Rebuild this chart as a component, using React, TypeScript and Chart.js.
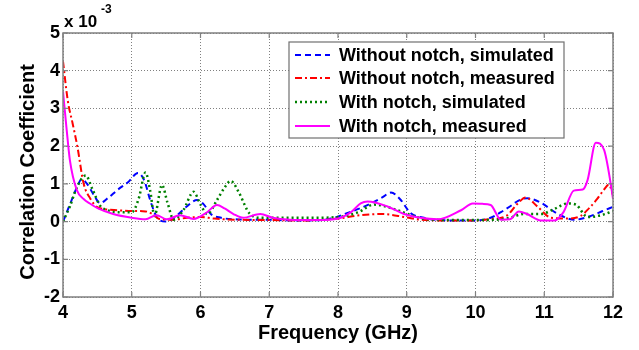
import React, { useEffect, useRef } from "react";
import { Chart, registerables } from "chart.js";

Chart.register(...registerables);

// Without notch, simulated (blue dashed)
const blueFreq = [4.0, 4.1, 4.2, 4.27, 4.35, 4.45, 4.54, 4.65, 4.8, 4.95, 5.09, 5.18, 5.28, 5.37, 5.5, 5.65, 5.8, 5.95, 6.05, 6.15, 6.3, 6.5, 6.8, 7.0, 7.3, 7.6, 7.9, 8.1, 8.33, 8.5, 8.65, 8.77, 8.9, 9.06, 9.25, 9.4, 9.7, 10.0, 10.22, 10.37, 10.5, 10.62, 10.75, 10.95, 11.2, 11.44, 11.68, 11.85, 12.0];
const blueVal = [0.0, 0.45, 0.9, 1.12, 1.0, 0.7, 0.49, 0.62, 0.85, 1.05, 1.29, 1.1, 0.5, 0.1, 0.0, 0.15, 0.4, 0.57, 0.45, 0.2, 0.1, 0.06, 0.05, 0.05, 0.03, 0.03, 0.08, 0.2, 0.36, 0.5, 0.65, 0.77, 0.6, 0.22, 0.1, 0.05, 0.03, 0.03, 0.1, 0.25, 0.4, 0.55, 0.62, 0.5, 0.2, 0.05, 0.15, 0.28, 0.39];

// Without notch, measured (red dash-dot)
const redFreq = [4.0, 4.07, 4.14, 4.21, 4.3, 4.4, 4.49, 4.6, 4.8, 5.0, 5.2, 5.3, 5.4, 5.6, 5.8, 6.0, 6.2, 6.5, 7.0, 7.5, 8.0, 8.33, 8.63, 8.97, 9.2, 9.6, 10.0, 10.2, 10.45, 10.6, 10.73, 10.9, 11.1, 11.34, 11.53, 11.65, 11.77, 11.87, 11.94, 12.0];
const redVal = [4.25, 3.2, 2.6, 1.98, 1.01, 0.6, 0.39, 0.33, 0.3, 0.28, 0.27, 0.2, 0.07, 0.05, 0.1, 0.12, 0.08, 0.05, 0.04, 0.03, 0.08, 0.17, 0.2, 0.12, 0.05, 0.03, 0.03, 0.06, 0.15, 0.45, 0.64, 0.4, 0.1, 0.08, 0.15, 0.35, 0.6, 0.85, 0.98, 0.7];

// With notch, simulated (green dotted)
const greenFreq = [4.0, 4.1, 4.2, 4.33, 4.43, 4.54, 4.65, 4.8, 5.0, 5.1, 5.2, 5.27, 5.33, 5.44, 5.52, 5.61, 5.75, 5.9, 6.0, 6.1, 6.24, 6.35, 6.44, 6.55, 6.72, 6.9, 7.2, 7.6, 8.0, 8.3, 8.52, 8.82, 9.06, 9.3, 9.7, 10.0, 10.3, 10.5, 10.7, 10.95, 11.14, 11.34, 11.46, 11.63, 11.83, 12.0];
const greenVal = [0.0, 0.4, 0.9, 1.22, 0.85, 0.42, 0.3, 0.25, 0.25, 0.6, 1.3, 0.8, 0.15, 0.97, 0.5, 0.05, 0.3, 0.79, 0.45, 0.2, 0.57, 0.9, 1.08, 0.8, 0.2, 0.1, 0.1, 0.1, 0.12, 0.25, 0.45, 0.33, 0.17, 0.06, 0.04, 0.04, 0.05, 0.1, 0.2, 0.2, 0.33, 0.48, 0.45, 0.12, 0.17, 0.28];

// With notch, measured (magenta solid)
const magentaFreq = [4.0, 4.05, 4.1, 4.2, 4.3, 4.39, 4.51, 4.73, 5.0, 5.2, 5.36, 5.51, 5.7, 5.9, 6.09, 6.24, 6.35, 6.48, 6.62, 6.87, 7.05, 7.3, 7.7, 8.0, 8.19, 8.33, 8.43, 8.72, 8.96, 9.2, 9.45, 9.79, 9.96, 10.1, 10.22, 10.37, 10.5, 10.63, 10.75, 10.95, 11.15, 11.28, 11.43, 11.56, 11.63, 11.75, 11.87, 11.97, 12.0];
const magentaVal = [3.45, 2.5, 1.63, 0.84, 0.6, 0.48, 0.35, 0.2, 0.1, 0.06, 0.17, 0.06, 0.17, 0.07, 0.24, 0.44, 0.35, 0.2, 0.1, 0.2, 0.1, 0.05, 0.04, 0.08, 0.25, 0.48, 0.53, 0.4, 0.2, 0.1, 0.06, 0.3, 0.48, 0.47, 0.44, 0.05, 0.06, 0.27, 0.2, 0.03, 0.03, 0.25, 0.82, 0.85, 1.1, 2.09, 1.9, 0.97, 0.6];

const seriesLabels = ["Without notch, simulated", "Without notch, measured", "With notch, simulated", "With notch, measured"];
const xTicks = [4, 5, 6, 7, 8, 9, 10, 11, 12];
const yTicks = [-2, -1, 0, 1, 2, 3, 4, 5];

const FONT = "'Liberation Sans', Arial, sans-serif";

const toPoints = (xs: number[], ys: number[]) => xs.map((x, i) => ({ x, y: ys[i] }));

const styles = [
  { color: "#0000ff", dash: [6, 4], width: 2 },
  { color: "#ff0000", dash: [7, 3, 2, 3], width: 2 },
  { color: "#008000", dash: [2, 3], width: 2.5 },
  { color: "#ff00ff", dash: [] as number[], width: 2 },
];

const decorPlugin = {
  id: "decor",
  afterDraw(chart: any) {
    const { ctx, chartArea } = chart;
    const { left, right, top, bottom } = chartArea;
    const xs = chart.scales.x;
    const ys = chart.scales.y;
    ctx.save();
    // frame
    ctx.strokeStyle = "#808080";
    ctx.lineWidth = 1.5;
    ctx.setLineDash([]);
    ctx.strokeRect(left, top, right - left, bottom - top);
    // inward ticks
    ctx.lineWidth = 1.2;
    xTicks.forEach((t) => {
      const px = xs.getPixelForValue(t);
      ctx.beginPath();
      ctx.moveTo(px, bottom);
      ctx.lineTo(px, bottom - 5);
      ctx.moveTo(px, top);
      ctx.lineTo(px, top + 5);
      ctx.stroke();
    });
    yTicks.forEach((t) => {
      const py = ys.getPixelForValue(t);
      ctx.beginPath();
      ctx.moveTo(left, py);
      ctx.lineTo(left + 5, py);
      ctx.moveTo(right, py);
      ctx.lineTo(right - 5, py);
      ctx.stroke();
    });
    // exponent
    ctx.fillStyle = "#000";
    ctx.textBaseline = "alphabetic";
    ctx.textAlign = "left";
    ctx.font = `bold 17px ${FONT}`;
    ctx.fillText("x 10", 64, 27);
    ctx.font = `bold 12px ${FONT}`;
    ctx.fillText("-3", 101, 13);
    // axis titles
    ctx.font = `bold 20px ${FONT}`;
    ctx.textAlign = "center";
    ctx.fillText("Frequency (GHz)", (left + right) / 2, 339);
    ctx.save();
    ctx.translate(28, 172);
    ctx.rotate(-Math.PI / 2);
    ctx.textBaseline = "middle";
    ctx.font = `bold 20px ${FONT}`;
    ctx.fillText("Correlation Coefficient", 0, 0);
    ctx.restore();
    // legend
    const lx = 289, ly = 42, lw = 275, lh = 96;
    ctx.fillStyle = "#fff";
    ctx.fillRect(lx, ly, lw, lh);
    ctx.strokeStyle = "#707070";
    ctx.lineWidth = 1.2;
    ctx.strokeRect(lx, ly, lw, lh);
    const rows = [55, 78, 102, 126];
    ctx.font = `bold 18px ${FONT}`;
    ctx.textAlign = "left";
    ctx.textBaseline = "middle";
    seriesLabels.forEach((lab, i) => {
      const s = styles[i];
      ctx.strokeStyle = s.color;
      ctx.lineWidth = s.width;
      ctx.setLineDash(s.dash);
      ctx.beginPath();
      ctx.moveTo(295, rows[i]);
      ctx.lineTo(330, rows[i]);
      ctx.stroke();
      ctx.setLineDash([]);
      ctx.fillStyle = "#000";
      ctx.fillText(lab, 339, rows[i] + 1);
    });
    ctx.restore();
  },
};

export default function App() {
  const ref = useRef<HTMLCanvasElement | null>(null);
  useEffect(() => {
    document.body.style.margin = "0";
    const canvas = ref.current!;
    const datasets = [
      [blueFreq, blueVal],
      [redFreq, redVal],
      [greenFreq, greenVal],
      [magentaFreq, magentaVal],
    ].map(([xs, ys], i) => ({
      label: seriesLabels[i],
      data: toPoints(xs, ys),
      borderColor: styles[i].color,
      borderWidth: styles[i].width,
      borderDash: styles[i].dash,
      pointRadius: 0,
      fill: false,
      cubicInterpolationMode: "monotone" as const,
      order: 4 - i,
    }));
    const chart = new Chart(canvas, {
      type: "line",
      data: { datasets },
      options: {
        responsive: false,
        animation: false,
        layout: { padding: { top: 33, right: 26, left: 0, bottom: 0 } },
        plugins: { legend: { display: false }, tooltip: { enabled: false } },
        scales: {
          x: {
            type: "linear",
            min: 4,
            max: 12,
            afterBuildTicks: (s: any) => {
              s.ticks = xTicks.map((v) => ({ value: v }));
            },
            afterFit: (s: any) => {
              s.height = 53;
            },
            ticks: {
              font: { family: FONT, weight: "bold", size: 18 },
              color: "#000",
              padding: 5,
              maxRotation: 0,
            },
            grid: { color: "#808080", lineWidth: 1, drawTicks: false },
            border: { display: false, dash: [1, 2] },
          },
          y: {
            type: "linear",
            min: -2,
            max: 5,
            afterBuildTicks: (s: any) => {
              s.ticks = yTicks.map((v) => ({ value: v }));
            },
            afterFit: (s: any) => {
              s.width = 63;
            },
            ticks: {
              font: { family: FONT, weight: "bold", size: 18 },
              color: "#000",
              padding: 3,
            },
            grid: { color: "#808080", lineWidth: 1, drawTicks: false },
            border: { display: false, dash: [1, 2] },
          },
        },
      },
      plugins: [decorPlugin],
    });
    return () => chart.destroy();
  }, []);
  return <canvas ref={ref} width={639} height={350} style={{ display: "block" }} />;
}
